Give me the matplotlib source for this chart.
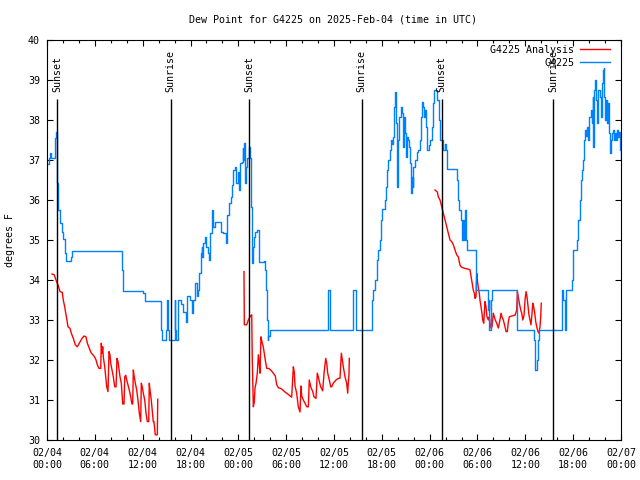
import numpy as np
import matplotlib
matplotlib.use("Agg")
import matplotlib.pyplot as plt
from matplotlib.ticker import FixedLocator, MultipleLocator

# hours since 02/04 00:00 UTC
blue_hours = [0.0, 0.2, 0.4, 0.5, 1.0, 1.05, 1.17, 1.29, 1.4, 1.6, 1.85, 2.0, 2.2, 2.35, 2.95, 3.15,
              9.45, 9.57, 12.08, 12.3, 14.35, 14.45, 14.93, 15.05, 15.15, 15.3, 16.0, 16.1, 16.2,
              16.45, 16.8, 17.0, 17.45, 17.55, 17.94, 18.23, 18.35, 18.56, 18.77, 18.98, 19.1,
              19.28, 19.41, 19.5, 19.61, 19.82, 19.98, 20.16, 20.36, 20.45, 20.66, 20.79, 21.07,
              21.79, 22.11, 22.49, 22.62, 22.83, 23.04, 23.21, 23.37, 23.58, 23.75, 23.92, 24.05,
              24.21, 24.42, 24.55, 24.62, 24.75, 24.87, 24.96, 25.13, 25.3, 25.38, 25.46, 25.55,
              25.68, 25.8, 25.88, 26.0, 26.13, 26.3, 26.59, 27.22, 27.35, 27.47, 27.6, 27.68,
              27.76, 27.93, 35.21, 35.5, 38.42, 38.72, 40.75, 40.93, 41.14, 41.36, 41.56, 41.77,
              41.9, 41.98, 42.4, 42.52, 42.61, 42.81, 43.03, 43.19, 43.31, 43.44, 43.57, 43.69,
              43.78, 43.87, 43.94, 44.07, 44.19, 44.37, 44.49, 44.62, 44.69, 44.78, 44.91, 45.03,
              45.2, 45.32, 45.45, 45.53, 45.66, 45.75, 45.87, 45.95, 46.16, 46.38, 46.58, 46.79,
              46.91, 47.08, 47.2, 47.29, 47.42, 47.54, 47.63, 47.92, 48.08, 48.26, 48.38, 48.54,
              48.96, 49.21, 49.33, 49.71, 49.92, 50.05, 50.18, 51.47, 51.6, 51.72, 51.93, 52.06,
              52.15, 52.22, 52.3, 52.4, 52.47, 52.56, 52.68, 53.77, 55.36, 55.44, 55.48, 55.66,
              55.78, 59.0, 61.09, 61.25, 61.45, 61.55, 61.75, 64.64, 64.77, 64.98, 65.06, 65.82,
              65.94, 66.02, 66.44, 66.65, 66.86, 66.98, 67.11, 67.27, 67.4, 67.49, 67.61, 67.78,
              67.9, 68.03, 68.2, 68.33, 68.45, 68.53, 68.65, 68.78, 68.87, 68.95, 69.08, 69.33,
              69.46, 69.58, 69.71, 69.83, 69.91, 69.99, 70.12, 70.25, 70.37, 70.5, 70.62, 70.75,
              70.87, 71.0, 71.12, 71.25, 71.38, 71.5, 71.63, 71.75, 71.84, 71.96, 72.0]
blue_vals = [36.9, 37.05, 37.17, 37.05, 37.25, 37.54, 37.71, 36.42, 35.75, 35.42, 35.21, 35.02, 34.68,
             34.48, 34.58, 34.73, 34.25, 33.73, 33.68, 33.47, 32.75, 32.5, 32.75, 33.5, 32.75, 32.5,
             33.5, 32.75, 32.5, 33.5, 33.4, 33.2, 32.95, 33.6, 33.5, 33.17, 33.5, 33.92, 33.6, 33.75,
             34.17, 34.67, 34.83, 34.58, 34.92, 35.08, 34.83, 34.67, 34.5, 35.17, 35.75, 35.33,
             35.45, 35.2, 35.17, 34.92, 35.62, 35.92, 36.08, 36.38, 36.75, 36.83, 36.42, 36.71,
             36.25, 36.92, 36.95, 37.29, 37.0, 37.42, 36.42, 36.83, 37.04, 37.1, 37.33, 37.04,
             35.83, 34.42, 34.6, 34.83, 35.08, 35.21, 35.25, 34.46, 34.48, 34.25, 33.75, 33.0, 32.5,
             32.6, 32.75, 33.75, 32.75, 33.75, 32.75, 33.5, 33.75, 34.0, 34.5, 34.75, 35.0, 35.5,
             35.77, 36.0, 36.33, 36.75, 37.0, 37.25, 37.5, 37.4, 37.58, 38.33, 38.7, 37.92, 37.4,
             36.33, 37.5, 38.08, 38.33, 38.17, 38.08, 37.33, 38.08, 37.67, 37.08, 37.58, 37.5,
             37.33, 36.92, 36.17, 36.58, 36.33, 36.83, 37.0, 37.2, 37.25, 37.5, 38.08, 38.46,
             38.33, 38.08, 38.25, 37.83, 37.25, 37.38, 37.5, 37.83, 38.42, 38.75, 38.5, 38.0, 37.5,
             37.25, 37.4, 37.25, 36.77, 36.5, 36.0, 35.75, 35.5, 35.0, 35.5, 35.0, 35.5, 35.0,
             35.75, 35.0, 34.75, 33.75, 33.25, 33.5, 32.75, 33.5, 33.75, 32.75, 32.5, 31.75, 32.0,
             32.5, 32.75, 33.75, 33.5, 32.75, 33.75, 34.0, 34.5, 34.75, 35.0, 35.5, 36.0, 36.5,
             36.75, 37.0, 37.5, 37.75, 37.6, 37.83, 37.5, 38.08, 38.25, 37.92, 38.58, 37.33, 38.75,
             39.0, 38.5, 37.92, 38.75, 38.58, 38.08, 38.92, 39.25, 39.29, 38.58, 38.0, 38.5, 37.92,
             38.42, 37.67, 37.17, 37.5, 37.67, 37.75, 37.5, 37.67, 37.5, 37.75, 37.58, 37.7, 37.25,
             37.05, 37.05]

nan = np.nan
red_hours = [0.63, 0.9, 1.13, 1.29, 1.42, 1.63, 1.92, 2.04, 2.22, 2.35, 2.47, 2.63, 2.89, 3.05, 3.3,
             3.55, 3.8, 4.05, 4.39, 4.64, 4.89, 5.06, 5.31, 5.56, 5.81, 5.98, 6.15, 6.31, 6.52, 6.74,
             6.81, 6.9, 6.99, 7.06, 7.24, 7.36, 7.49, 7.65, 7.78, 7.9, 7.99, 8.15, 8.32, 8.49, 8.66,
             8.78, 8.91, 8.99, 9.16, 9.32, 9.5, 9.66, 9.75, 9.87, 10.0, 10.16, 10.32, 10.5, 10.66,
             10.75, 10.83, 10.91, 11.08, 11.25, 11.41, 11.58, 11.75, 11.83, 11.95, 12.08, 12.26,
             12.42, 12.58, 12.76, 12.83, 12.92, 13.08, 13.26, 13.33, 13.42, 13.58, 13.84, 13.89,
             nan,
             24.71, 24.75, 25.05, 25.25, 25.46, 25.68, 25.75, 25.88, 26.0, 26.09, 26.22, 26.38,
             26.51, 26.63, 26.72, 26.84, 26.97, 27.13, 27.26, 27.38, 27.56, 27.81, 28.06, 28.39,
             28.64, 28.81, 29.06, 29.32, 29.57, 29.85, 30.07, 30.69, 30.9, 31.02, 31.11, 31.32,
             31.52, 31.74, 31.86, 31.95, 32.15, 32.36, 32.58, 32.78, 32.9, 33.08, 33.33, 33.49,
             33.74, 33.91, 34.03, 34.16, 34.33, 34.58, 34.75, 34.96, 35.09, 35.21, 35.41, 35.59,
             35.71, 35.91, 36.25, 36.54, 36.75, 36.92, 37.04, 37.17, 37.38, 37.59, 37.72, 37.79,
             37.88, 37.92,
             nan,
             48.67, 48.96, 49.08, 49.3, 49.51, 49.71, 49.92, 50.14, 50.34, 50.55, 50.76, 50.97,
             51.18, 51.39, 51.59, 51.81, 51.93, 52.14, 52.43, 52.85, 53.06, 53.27, 53.47, 53.6,
             53.69, 53.81, 53.9, 54.03, 54.15, 54.23, 54.31, 54.44, 54.56, 54.65, 54.78, 54.85,
             54.94, 55.07, 55.19, 55.36, 55.48, 55.57, 55.69, 55.82, 55.91, 55.98, 56.11, 56.23,
             56.41, 56.61, 56.82, 56.95, 57.07, 57.24, 57.45, 57.58, 57.74, 57.87, 57.99, 58.29,
             58.71, 58.92, 59.0, 59.12, 59.25, 59.42, 59.55, 59.68, 59.84, 59.96, 60.09, 60.21,
             60.34, 60.46, 60.59, 60.71, 60.84, 60.93, 61.05, 61.18, 61.3, 61.46, 61.59, 61.72,
             61.84, 61.93, 62.0]
red_vals = [34.15, 34.13, 34.0, 33.92, 33.85, 33.71, 33.69, 33.5, 33.33, 33.17, 33.04, 32.83, 32.79,
            32.67, 32.54, 32.38, 32.33, 32.42, 32.54, 32.6, 32.58, 32.42, 32.29, 32.17, 32.12, 32.07,
            32.0, 31.88, 31.79, 31.79, 32.42, 32.17, 32.33, 32.08, 31.83, 31.58, 31.33, 31.21, 32.21,
            32.13, 31.92, 31.75, 31.58, 31.33, 31.33, 32.04, 31.96, 31.83, 31.58, 31.42, 30.9, 30.9,
            31.58, 31.62, 31.5, 31.38, 31.25, 31.08, 30.9, 30.9, 31.75, 31.62, 31.42, 31.25, 31.0,
            30.67, 30.46, 31.42, 31.33, 31.17, 31.0, 30.67, 30.46, 30.46, 31.42, 31.25, 31.0, 30.62,
            30.46, 30.46, 30.13, 30.13, 31.02,
            nan,
            34.21, 32.88, 32.88, 33.0, 33.08, 33.13, 32.0, 30.83, 30.95, 31.3, 31.42, 31.67, 32.13,
            31.9, 31.67, 32.58, 32.45, 32.33, 32.15, 32.0, 31.79, 31.79, 31.75, 31.67, 31.6, 31.38,
            31.3, 31.29, 31.25, 31.2, 31.17, 31.07, 31.83, 31.7, 31.35, 31.17, 30.83, 30.7, 31.35,
            31.1, 31.0, 30.92, 30.83, 30.83, 31.5, 31.33, 31.21, 31.08, 31.04, 31.67, 31.58, 31.46,
            31.33, 31.23, 31.67, 32.04, 31.92, 31.67, 31.5, 31.33, 31.33, 31.42, 31.5, 31.54, 31.54,
            32.17, 32.0, 31.83, 31.58, 31.42, 31.17, 31.42, 31.63, 32.04,
            nan,
            36.25, 36.2, 36.08, 36.0, 35.83, 35.67, 35.5, 35.33, 35.17, 35.0, 34.96, 34.88, 34.75,
            34.63, 34.58, 34.37, 34.33, 34.31, 34.29, 34.27, 34.25, 34.0, 33.75, 33.67, 33.54, 33.58,
            34.17, 33.92, 33.75, 33.67, 33.5, 33.33, 33.17, 33.0, 32.92, 33.17, 33.46, 33.33, 33.08,
            33.0, 33.08, 32.92, 32.8, 32.83, 33.0, 33.17, 33.08, 33.0, 32.92, 32.8, 33.0, 33.17,
            33.08, 33.0, 32.83, 32.71, 32.71, 32.96, 33.08, 33.1, 33.12, 33.25, 33.71, 33.58, 33.42,
            33.25, 33.17, 33.0, 33.12, 33.5, 33.71, 33.58, 33.33, 33.12, 33.0, 32.88, 33.17, 33.42,
            33.33, 33.17, 32.96, 32.8, 32.71, 32.67, 32.83, 33.08, 33.42]

sun_hours = [1.29, 15.5, 25.38, 39.47, 49.5, 63.5]
sun_labels = ["Sunset", "Sunrise", "Sunset", "Sunrise", "Sunset", "Sunrise"]

tick_hours = [0, 6, 12, 18, 24, 30, 36, 42, 48, 54, 60, 66, 72]
tick_labels = ["02/04\n00:00", "02/04\n06:00", "02/04\n12:00", "02/04\n18:00",
               "02/05\n00:00", "02/05\n06:00", "02/05\n12:00", "02/05\n18:00",
               "02/06\n00:00", "02/06\n06:00", "02/06\n12:00", "02/06\n18:00",
               "02/07\n00:00"]

plt.rcParams['font.family'] = 'DejaVu Sans Mono'
plt.rcParams['font.size'] = 7.2

fig = plt.figure(figsize=(6.4, 4.8), dpi=100)
ax = fig.add_axes([47 / 640, 40 / 480, 574 / 640, 400 / 480])

ax.plot(red_hours, red_vals, color="#ff0000", lw=1.0, label="G4225 Analysis")
ax.plot(blue_hours, blue_vals, color="#0080ff", lw=1.0, drawstyle="steps-post", label="G4225")

for h, lab in zip(sun_hours, sun_labels):
    ax.vlines(h, 30, 38.52, color="black", lw=1.0)
    ax.text(h, 38.7, lab, rotation=90, ha="center", va="bottom")

ax.set_xlim(0, 72)
ax.set_ylim(30, 40)
ax.xaxis.set_major_locator(FixedLocator(tick_hours))
ax.set_xticklabels(tick_labels)
ax.xaxis.set_minor_locator(MultipleLocator(2))
ax.yaxis.set_major_locator(MultipleLocator(1))
ax.tick_params(which="both", direction="in", top=True, right=True)
ax.tick_params(which="major", length=4.5, width=0.8)
ax.tick_params(which="minor", length=2.5, width=0.8)
ax.tick_params(axis="x", pad=6)
ax.tick_params(axis="y", pad=5)

ax.legend(loc="upper right", bbox_to_anchor=(0.981, 0.988), frameon=False, markerfirst=False,
          handlelength=3.0, handletextpad=0.6, labelspacing=0.32, borderaxespad=0, borderpad=0)

fig.text(333 / 640, 1 - 20 / 480, "Dew Point for G4225 on 2025-Feb-04 (time in UTC)",
         ha="center", va="center")
fig.text(10 / 640, 0.5, "degrees F", rotation=90, ha="center", va="center")

fig.savefig("out.png", dpi=100)
